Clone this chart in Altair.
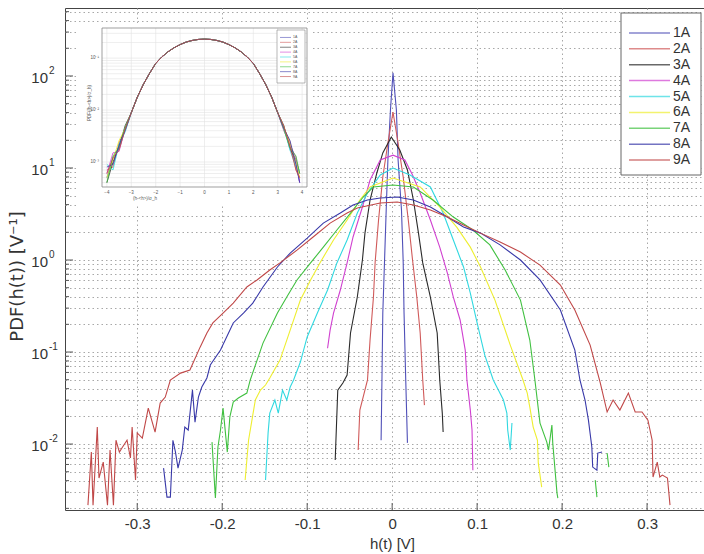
import altair as alt
import pandas as pd

SERIES = ["1A", "2A", "3A", "4A", "5A", "6A", "7A", "8A", "9A"]
COLORS = ["#5050b8", "#d05a5a", "#2a2a2a", "#d040d0", "#30d8e0",
          "#eeee30", "#40c040", "#3838a8", "#c04848"]

# ---- main panel: h(t) [V] and estimated PDF [1/V], one pair of lists per run ----
x_1A = [-0.013, -0.012, -0.011, -0.009, -0.007, -0.005, -0.002, 0.001, 0.005, 0.007,
        0.011, 0.013, 0.014, 0.016, 0.018]
p_1A = [0.011, 0.0497, 0.265, 0.95, 3.49, 12.2, 42.7, 108, 42.7, 12.2,
        3.49, 0.95, 0.265, 0.0497, 0.0103]

x_2A = [-0.040, -0.038, -0.029, -0.026, -0.022, -0.020, -0.016, -0.011, -0.005, 0.001,
        0.007, 0.013, 0.019, 0.024, 0.029, 0.033, 0.036, 0.038]
p_2A = [0.0086, 0.0234, 0.0497, 0.135, 0.396, 0.95, 2.72, 7.98, 18.7, 40.6,
        18.7, 7.98, 2.72, 1.0, 0.396, 0.161, 0.0497, 0.0265]

x_3A = [-0.067, -0.064, -0.058, -0.053, -0.049, -0.041, -0.035, -0.032, -0.026, -0.018,
        -0.011, -0.001, 0.009, 0.018, 0.025, 0.031, 0.036, 0.045, 0.053, 0.056,
        0.059, 0.060]
p_3A = [0.0067, 0.0386, 0.046, 0.0562, 0.161, 0.396, 1.0, 1.96, 4.49, 8.83,
        14.6, 21.7, 15.7, 9.51, 4.49, 1.96, 0.93, 0.396, 0.161, 0.0497,
        0.0217, 0.0135]

x_4A = [-0.076, -0.073, -0.069, -0.061, -0.053, -0.046, -0.035, -0.026, -0.014, 0.001,
        0.015, 0.024, 0.033, 0.045, 0.056, 0.065, 0.072, 0.080, 0.086, 0.088,
        0.092, 0.094, 0.095]
p_4A = [0.110, 0.173, 0.265, 0.472, 0.93, 1.78, 3.77, 7.41, 12.2, 13.8,
        12.2, 8.4, 5.35, 2.72, 1.38, 0.722, 0.396, 0.223, 0.105, 0.0497,
        0.0234, 0.0142, 0.0052]

x_5A = [-0.149, -0.146, -0.144, -0.138, -0.134, -0.129, -0.124, -0.120, -0.116, -0.108,
        -0.100, -0.088, -0.076, -0.065, -0.053, -0.041, -0.029, -0.014, 0.001, 0.021,
        0.045, 0.060, 0.072, 0.084, 0.092, 0.100, 0.109, 0.119, 0.125, 0.131,
        0.135, 0.136, 0.139, 0.141]
p_5A = [0.00406, 0.0132, 0.0217, 0.0301, 0.0217, 0.0386, 0.0301, 0.0417, 0.0497, 0.0778,
        0.146, 0.265, 0.472, 0.93, 1.65, 3.24, 5.35, 8.4, 10.0, 8.4,
        6.22, 3.24, 1.65, 0.84, 0.438, 0.207, 0.0927, 0.0497, 0.0386, 0.0301,
        0.0217, 0.0142, 0.0086, 0.0169]

x_6A = [-0.173, -0.169, -0.165, -0.161, -0.155, -0.149, -0.144, -0.132, -0.120, -0.108,
        -0.096, -0.085, -0.069, -0.053, -0.038, -0.026, 0.001, 0.033, 0.056, 0.076,
        0.092, 0.104, 0.121, 0.139, 0.154, 0.159, 0.162, 0.166, 0.171, 0.172,
        0.176]
p_6A = [0.00406, 0.0110, 0.0182, 0.0301, 0.0386, 0.0438, 0.0522, 0.0818, 0.173, 0.367,
        0.607, 0.93, 1.65, 2.72, 4.49, 6.22, 7.79, 6.22, 3.77, 2.28,
        1.38, 0.84, 0.367, 0.119, 0.0497, 0.0358, 0.0252, 0.0153, 0.0110, 0.0062,
        0.0034]

x_7A = [-0.212, -0.208, -0.205, -0.202, -0.199, -0.194, -0.191, -0.187, -0.181, -0.171,
        -0.167, -0.152, -0.135, -0.124, -0.112, -0.096, -0.081, -0.065, -0.049, -0.034,
        -0.022, 0.001, 0.025, 0.048, 0.072, 0.095, 0.115, 0.133, 0.151, 0.162,
        0.168, 0.174, 0.182, 0.184, 0.188, 0.189, 0.194, 0.195]
p_7A = [0.0105, 0.00259, 0.00928, 0.0142, 0.0246, 0.00818, 0.0197, 0.0286, 0.0316, 0.0358,
        0.0497, 0.125, 0.265, 0.396, 0.607, 0.93, 1.38, 2.12, 3.24, 4.84,
        6.22, 6.53, 6.22, 4.49, 2.93, 2.12, 1.46, 0.778, 0.367, 0.135,
        0.0497, 0.0169, 0.0105, 0.0086, 0.0161, 0.0103, 0.00293, 0.00259]
x_7A_b = [0.239, 0.241]
p_7A_b = [0.00406, 0.00265]
x_7A_c = [0.253, 0.255]
p_7A_c = [0.00798, 0.00562]

x_8A = [-0.269, -0.265, -0.261, -0.258, -0.255, -0.252, -0.247, -0.244, -0.240, -0.235,
        -0.232, -0.228, -0.224, -0.218, -0.214, -0.202, -0.187, -0.175, -0.164, -0.152,
        -0.135, -0.120, -0.100, -0.081, -0.061, -0.046, -0.029, -0.014, 0.006, 0.025,
        0.045, 0.065, 0.084, 0.104, 0.127, 0.151, 0.174, 0.198, 0.215, 0.221,
        0.227, 0.231, 0.235, 0.236, 0.241, 0.242, 0.247]
p_8A = [0.00548, 0.00265, 0.00265, 0.0110, 0.00818, 0.00548, 0.0086, 0.0153, 0.0142, 0.0386,
        0.0173, 0.0324, 0.0417, 0.0522, 0.0722, 0.105, 0.207, 0.265, 0.340, 0.509,
        0.84, 1.19, 1.73, 2.52, 3.24, 3.96, 4.49, 4.72, 4.84, 4.49,
        3.77, 2.93, 2.28, 1.96, 1.46, 1.0, 0.607, 0.286, 0.105, 0.0497,
        0.0301, 0.0182, 0.00928, 0.00562, 0.00521, 0.00798, 0.00818]

x_9A = [-0.358, -0.354, -0.352, -0.347, -0.345, -0.340, -0.335, -0.332, -0.328, -0.325,
        -0.321, -0.318, -0.312, -0.308, -0.306, -0.302, -0.300, -0.294, -0.287, -0.279,
        -0.273, -0.267, -0.261, -0.249, -0.238, -0.226, -0.218, -0.211, -0.199, -0.187,
        -0.171, -0.159, -0.144, -0.132, -0.112, -0.093, -0.073, -0.053, -0.041, -0.014,
        0.006, 0.025, 0.045, 0.065, 0.084, 0.104, 0.127, 0.151, 0.174, 0.198,
        0.215, 0.233, 0.245, 0.253, 0.260, 0.268, 0.278, 0.286, 0.294, 0.301,
        0.306, 0.307, 0.312, 0.315, 0.318, 0.324, 0.327]
p_9A = [0.00217, 0.00818, 0.00217, 0.0153, 0.00427, 0.00637, 0.00217, 0.0086, 0.00217, 0.0110,
        0.00818, 0.00906, 0.0110, 0.00705, 0.0153, 0.00406, 0.0132, 0.0116, 0.0246, 0.0135,
        0.0279, 0.0324, 0.0497, 0.059, 0.0637, 0.113, 0.161, 0.207, 0.265, 0.340,
        0.509, 0.607, 0.778, 0.93, 1.28, 1.78, 2.52, 3.24, 3.67, 4.17,
        4.27, 3.96, 3.49, 2.93, 2.40, 1.96, 1.57, 1.22, 0.88, 0.535,
        0.286, 0.119, 0.046, 0.0223, 0.0301, 0.0234, 0.0358, 0.0223, 0.0223, 0.0182,
        0.0110, 0.00438, 0.00637, 0.00438, 0.0046, 0.00427, 0.00217]

MAIN_RUNS = [
    ("1A", [(x_1A, p_1A)]),
    ("2A", [(x_2A, p_2A)]),
    ("3A", [(x_3A, p_3A)]),
    ("4A", [(x_4A, p_4A)]),
    ("5A", [(x_5A, p_5A)]),
    ("6A", [(x_6A, p_6A)]),
    ("7A", [(x_7A, p_7A), (x_7A_b, p_7A_b), (x_7A_c, p_7A_c)]),
    ("8A", [(x_8A, p_8A)]),
    ("9A", [(x_9A, p_9A)]),
]

# ---- inset: standardised variable (h-<h>)/sigma_h, all runs collapse ----
INSET_X_CORE = [-3.0, -2.75, -2.5, -2.25, -2.0, -1.75, -1.5, -1.25, -1.0, -0.75, -0.5, -0.25,
                0.0, 0.25, 0.5, 0.75, 1.0, 1.25, 1.5, 1.75, 2.0, 2.25, 2.5, 2.75, 3.0]
INSET_P_CORE = [0.0089, 0.0178, 0.0316, 0.051, 0.079, 0.105, 0.132, 0.158, 0.182, 0.204, 0.219, 0.229,
                0.232, 0.229, 0.219, 0.204, 0.182, 0.158, 0.132, 0.105, 0.079, 0.051, 0.0316, 0.0178, 0.0089]
INSET_X_LEFT = [-4.0, -3.75, -3.5, -3.25]
INSET_X_RIGHT = [3.25, 3.5, 3.75, 3.9]
INSET_TAILS = {
    "1A": ([0.0005, 0.0012, 0.0018, 0.0042], [0.0047, 0.0021, 0.0009, 0.0004]),
    "2A": ([0.0007, 0.0008, 0.0024, 0.0040], [0.0043, 0.0025, 0.0007, 0.0005]),
    "3A": ([0.0004, 0.0010, 0.0020, 0.0050], [0.0050, 0.0018, 0.0011, 0.0006]),
    "4A": ([0.0006, 0.0015, 0.0016, 0.0045], [0.0040, 0.0022, 0.0012, 0.0004]),
    "5A": ([0.0009, 0.0007, 0.0022, 0.0038], [0.0046, 0.0017, 0.0008, 0.0007]),
    "6A": ([0.0005, 0.0011, 0.0026, 0.0044], [0.0048, 0.0023, 0.0010, 0.0005]),
    "7A": ([0.0004, 0.0013, 0.0019, 0.0047], [0.0042, 0.0019, 0.0013, 0.0006]),
    "8A": ([0.0008, 0.0009, 0.0021, 0.0041], [0.0045, 0.0026, 0.0009, 0.0004]),
    "9A": ([0.0006, 0.0012, 0.0017, 0.0043], [0.0049, 0.0020, 0.0007, 0.0005]),
}
INSET_XTICKS = [-4, -3, -2, -1, 0, 1, 2, 3, 4]
INSET_YLABELS = [0.1, 0.01, 0.001]
INSET_YLABEL_TEXT = ["10⁻¹", "10⁻²", "10⁻³"]

# ---- axes ----
X_TICKS = [-0.3, -0.2, -0.1, 0.0, 0.1, 0.2, 0.3]
DECADES = [0.01, 0.1, 1, 10, 100]
EXPONENTS = ["-2", "-1", "0", "1", "2"]

FONT = "Liberation Sans"
TEXT = "#333333"
W, H = 639, 502

y_minor = [round(d * m, 6) for d in [0.001, 0.01, 0.1, 1, 10, 100] for m in range(2, 10)
           if 0.00192 <= d * m <= 548]
y_all = sorted(set(y_minor + DECADES))

rows = []
for name, parts in MAIN_RUNS:
    for k, (xs_, ps_) in enumerate(parts):
        for i, (a, b) in enumerate(zip(xs_, ps_)):
            rows.append({"series": name, "seg": f"{name}-{k}", "i": i, "x": a, "pdf": b})
main_df = pd.DataFrame(rows)

inset_rows = []
for name in SERIES:
    left, right = INSET_TAILS[name]
    xs_ = INSET_X_LEFT + INSET_X_CORE + INSET_X_RIGHT
    ps_ = left + INSET_P_CORE + right
    for i, (a, b) in enumerate(zip(xs_, ps_)):
        inset_rows.append({"series": name, "i": i, "x": a, "pdf": b})
inset_df = pd.DataFrame(inset_rows)

xs = alt.Scale(domain=[-0.385, 0.367], nice=False, zero=False)
ys = alt.Scale(type="log", domain=[0.00192, 548], nice=False)
color = alt.Color("series:N", scale=alt.Scale(domain=SERIES, range=COLORS), legend=None)

GRID = dict(grid=True, gridColor="#a8a8a8", gridDash=[1.5, 3], gridWidth=1)

lines = alt.Chart(main_df).mark_line(strokeWidth=1.1, clip=True).encode(
    x=alt.X("x:Q", scale=xs, axis=alt.Axis(
        values=X_TICKS, ticks=False, domain=False, **GRID,
        labelExpr="datum.value == 0 ? '0' : replace(format(datum.value, '.1f'), '−', '-')",
        labelFont=FONT, labelFontSize=15, labelColor=TEXT, labelPadding=6,
        title="h(t) [V]", titleFont=FONT, titleFontSize=15, titleFontWeight="normal",
        titleColor=TEXT, titleX=327, titleY=26, titleBaseline="top")),
    y=alt.Y("pdf:Q", scale=ys, axis=alt.Axis(
        values=y_all, labels=False, ticks=False, domain=False, **GRID,
        title="PDF(h(t)) [V⁻¹]", titleFont="DejaVu Sans", titleFontSize=18,
        titleFontWeight="normal", titleColor=TEXT, titleAngle=270, titleX=-48, titleY=268,
        titleAlign="center", titleBaseline="middle")),
    color=color,
    detail="seg:N",
    order="i:Q",
)

# inward tick marks on the left and bottom edges
ytick_major = alt.Chart(pd.DataFrame({"v": DECADES})).mark_rule(color="#555", strokeWidth=1).encode(
    y=alt.Y("v:Q", scale=ys, axis=None), x=alt.value(0), x2=alt.value(8))
ytick_minor = alt.Chart(pd.DataFrame({"v": y_minor})).mark_rule(color="#555", strokeWidth=1).encode(
    y=alt.Y("v:Q", scale=ys, axis=None), x=alt.value(0), x2=alt.value(4))
xtick = alt.Chart(pd.DataFrame({"v": X_TICKS})).mark_rule(color="#555", strokeWidth=1).encode(
    x=alt.X("v:Q", scale=xs, axis=None), y=alt.value(H), y2=alt.value(H - 7))

dec_df = pd.DataFrame({"v": DECADES, "e": EXPONENTS})
ylab_base = alt.Chart(dec_df).mark_text(align="right", baseline="middle", font=FONT,
                                        fontSize=15, color=TEXT, dy=2).encode(
    y=alt.Y("v:Q", scale=ys, axis=None), x=alt.value(-17), text=alt.value("10"))
ylab_exp = alt.Chart(dec_df).mark_text(align="left", baseline="middle", font=FONT,
                                       fontSize=10, color=TEXT, dy=-5).encode(
    y=alt.Y("v:Q", scale=ys, axis=None), x=alt.value(-16), text="e:N")

# ---- inset ----
one = pd.DataFrame({"k": [0]})
IX0, IX1, IY0, IY1 = 37, 242, 20, 179
xi = alt.Scale(domain=[-4.2, 4.2], range=[IX0, IX1], nice=False, zero=False)
yi = alt.Scale(type="log", domain=[3.3e-4, 0.38], range=[IY1, IY0], nice=False)

inset_bg = alt.Chart(one).mark_rect(fill="white", stroke=None).encode(
    x=alt.value(12), x2=alt.value(247), y=alt.value(15), y2=alt.value(198))
inset_ygrid_vals = [round(d * m, 7) for d in [0.0001, 0.001, 0.01, 0.1] for m in range(1, 10)
                    if 3.3e-4 <= d * m <= 0.38]
inset_vgrid = alt.Chart(pd.DataFrame({"v": INSET_XTICKS})).mark_rule(color="#e2e2e2", strokeWidth=0.6).encode(
    x=alt.X("v:Q", scale=xi, axis=None), y=alt.value(IY0), y2=alt.value(IY1))
inset_hgrid = alt.Chart(pd.DataFrame({"v": inset_ygrid_vals})).mark_rule(color="#e2e2e2", strokeWidth=0.6).encode(
    y=alt.Y("v:Q", scale=yi, axis=None), x=alt.value(IX0), x2=alt.value(IX1))
inset_lines = alt.Chart(inset_df).mark_line(strokeWidth=0.8).encode(
    x=alt.X("x:Q", scale=xi, axis=None),
    y=alt.Y("pdf:Q", scale=yi, axis=None),
    color=color, detail="series:N", order="i:Q")
inset_frame = alt.Chart(one).mark_rect(fill=None, stroke="#777", strokeWidth=0.7).encode(
    x=alt.value(IX0), x2=alt.value(IX1), y=alt.value(IY0), y2=alt.value(IY1))
inset_xlab = alt.Chart(pd.DataFrame({"v": INSET_XTICKS})).mark_text(
    font=FONT, fontSize=4.5, color="#555", baseline="top").encode(
    x=alt.X("v:Q", scale=xi, axis=None), y=alt.value(IY1 + 3), text="v:Q")
inset_ylab = alt.Chart(pd.DataFrame({"v": INSET_YLABELS, "t": INSET_YLABEL_TEXT})).mark_text(
    font=FONT, fontSize=4.5, color="#555", align="right", baseline="middle").encode(
    y=alt.Y("v:Q", scale=yi, axis=None), x=alt.value(IX0 - 3), text="t:N")
inset_xtitle = alt.Chart(one).mark_text(font=FONT, fontSize=4.5, color="#555").encode(
    x=alt.value(80), y=alt.value(IY1 + 12), text=alt.value("(h-<h>)/σ_h"))
inset_ytitle = alt.Chart(one).mark_text(font=FONT, fontSize=4.5, color="#555", angle=270).encode(
    x=alt.value(IX0 - 12), y=alt.value(95), text=alt.value("PDF((h-<h>)/σ_h)"))

leg_df = pd.DataFrame({"series": SERIES})
iley = alt.Scale(domain=SERIES, range=[27, 71])
inset_leg_box = alt.Chart(one).mark_rect(fill="white", stroke="#888", strokeWidth=0.6).encode(
    x=alt.value(212), x2=alt.value(240), y=alt.value(22), y2=alt.value(75))
inset_leg_lines = alt.Chart(leg_df).mark_rule(strokeWidth=0.6).encode(
    y=alt.Y("series:N", scale=iley, axis=None), x=alt.value(215), x2=alt.value(226), color=color)
inset_leg_text = alt.Chart(leg_df).mark_text(font=FONT, fontSize=3.5, color="#555",
                                             align="left", baseline="middle").encode(
    y=alt.Y("series:N", scale=iley, axis=None), x=alt.value(228), text="series:N")

# ---- legend of the main panel ----
ley = alt.Scale(domain=SERIES, range=[17, 160])
leg_box = alt.Chart(one).mark_rect(fill="white", stroke="#666", strokeWidth=1).encode(
    x=alt.value(556), x2=alt.value(636), y=alt.value(5), y2=alt.value(167))
leg_lines = alt.Chart(leg_df).mark_rule(strokeWidth=1.5, opacity=0.7).encode(
    y=alt.Y("series:N", scale=ley, axis=None), x=alt.value(564), x2=alt.value(605), color=color)
leg_text = alt.Chart(leg_df).mark_text(font=FONT, fontSize=14, color=TEXT,
                                       align="left", baseline="middle").encode(
    y=alt.Y("series:N", scale=ley, axis=None), x=alt.value(608), text="series:N")

chart = alt.layer(
    lines, ytick_major, ytick_minor, xtick, ylab_base, ylab_exp,
    inset_bg, inset_vgrid, inset_hgrid, inset_lines, inset_frame,
    inset_xlab, inset_ylab, inset_xtitle, inset_ytitle,
    inset_leg_box, inset_leg_lines, inset_leg_text,
    leg_box, leg_lines, leg_text,
).resolve_scale(
    x="independent", y="independent"
).properties(
    width=W, height=H,
    padding={"left": 65, "top": 8, "right": 0, "bottom": 44},
    autosize=alt.AutoSizeParams(type="none"),
    background="white",
).configure_view(stroke="#444", strokeWidth=1)

chart.save("out.html", embed_options={"renderer": "svg", "actions": False})
